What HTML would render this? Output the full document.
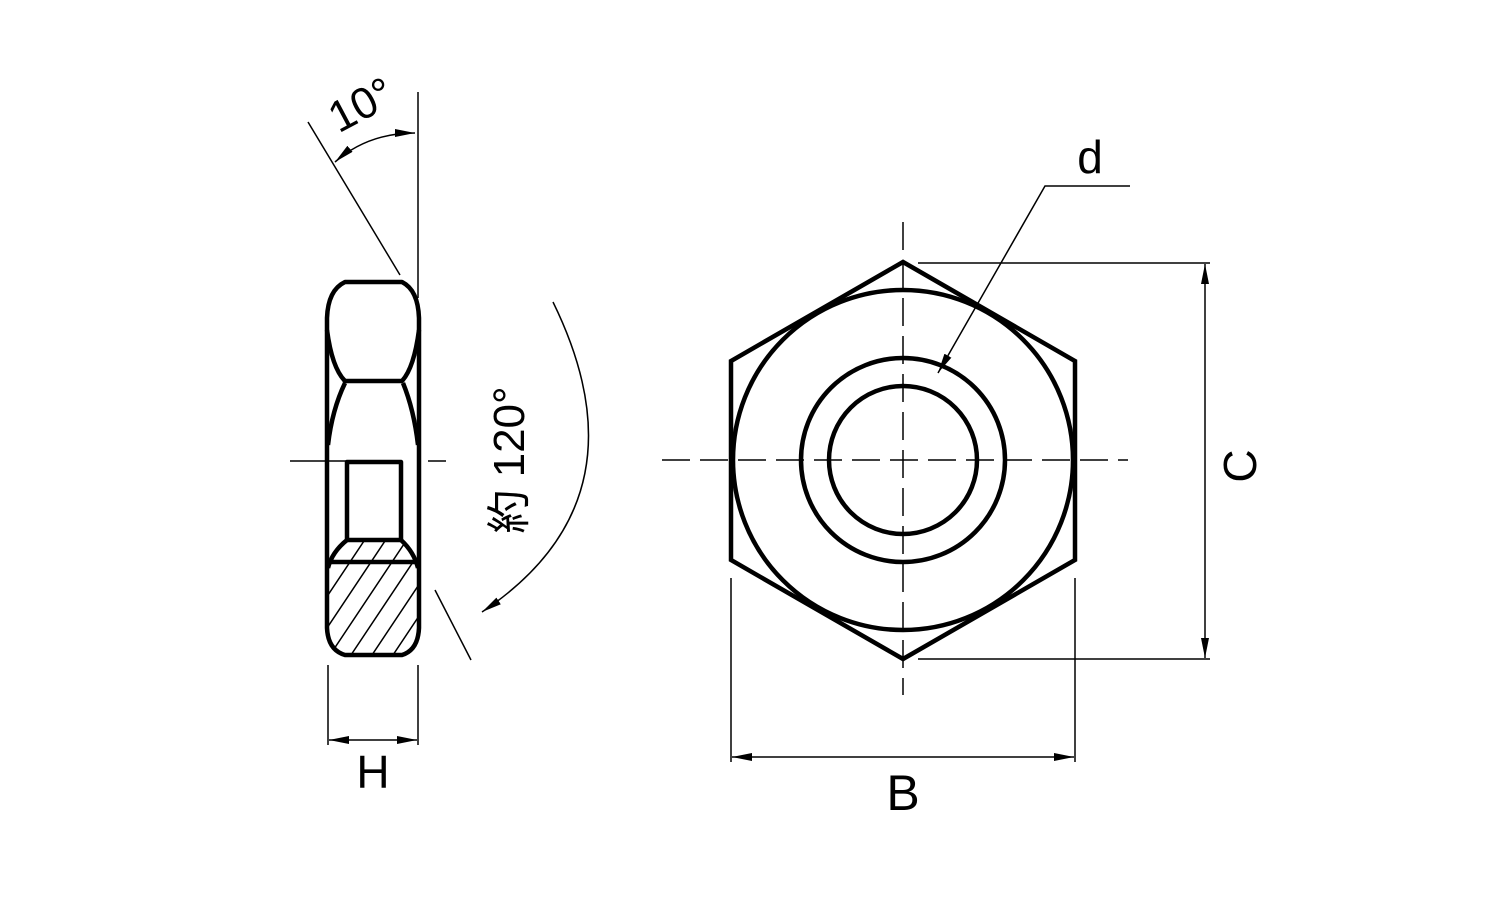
<!DOCTYPE html>
<html><head><meta charset="utf-8"><style>
html,body{margin:0;padding:0;background:#fff}
svg{display:block}
text{font-family:"Liberation Sans","Noto Sans CJK JP",sans-serif;fill:#000}
</style></head><body>
<svg width="1500" height="900" viewBox="0 0 1500 900" xmlns="http://www.w3.org/2000/svg">
<defs>
<marker id="a" viewBox="0 0 20 8" refX="20" refY="4" markerWidth="20" markerHeight="8" markerUnits="userSpaceOnUse" orient="auto-start-reverse">
<path d="M0,0 L20,4 L0,8 z" fill="#000"/></marker>
<clipPath id="hc"><path d="M347,540 L401,540 Q414,552 418,568 L418,628 Q418,650 402,655 L345,655 Q328,650 328,628 L328,568 Q332,552 347,540 z"/></clipPath>
</defs>
<g fill="none" stroke="#000">
<g clip-path="url(#hc)" stroke-width="1.5">
<path d="M300,700 L420,520 M321,700 L441,520 M342,700 L462,520 M363,700 L483,520 M384,700 L504,520 M279,700 L399,520 M258,700 L378,520 M237,700 L357,520 M216,700 L336,520 M195,700 L315,520"/>
</g>
<g stroke-width="4.5" stroke-linejoin="round">
<path d="M345,282 L402,282 Q418,290 419,318 L419,628 Q418,650 402,655 L345,655 Q328,650 327,628 L327,318 Q328,290 345,282 z"/>
<path d="M327,330 Q332,368 345,381 L402,381 Q414,368 419,330"/>
<path d="M345,383 Q332,410 328,445"/>
<path d="M403,383 Q414,410 418,445"/>
<rect x="347" y="462" width="54" height="78"/>
<path d="M347,540 Q332,552 328,568 M401,540 Q414,552 418,568"/>
<line x1="328" y1="562" x2="418" y2="562"/>
</g>
<g stroke-width="1.5">
<path d="M290,461 L390,461 M428,461 L446,461"/>
<line x1="418" y1="92" x2="418" y2="298"/>
<line x1="308" y1="122" x2="400" y2="275"/>
<path d="M415,133 Q368,133 335,162" marker-start="url(#a)" marker-end="url(#a)"/>
<path d="M553,302 Q650,500 482,612" marker-end="url(#a)"/>
<line x1="435" y1="590" x2="471" y2="660"/>
<line x1="328" y1="665" x2="328" y2="745"/>
<line x1="418" y1="665" x2="418" y2="745"/>
<line x1="329" y1="740" x2="417" y2="740" marker-start="url(#a)" marker-end="url(#a)"/>
</g>
<g stroke-width="4.5" stroke-linejoin="miter">
<path d="M903,262 L1075,361 L1075,560 L903,659 L731,560 L731,361 z"/>
<circle cx="903" cy="460" r="170"/>
<circle cx="903" cy="460" r="102"/>
<circle cx="903" cy="460" r="74"/>
</g>
<g stroke-width="1.5">
<line x1="903" y1="222" x2="903" y2="695" stroke-dasharray="28,10"/>
<line x1="662" y1="460" x2="1128" y2="460" stroke-dasharray="28,10"/>
<line x1="918" y1="263" x2="1210" y2="263"/>
<line x1="918" y1="659" x2="1210" y2="659"/>
<line x1="1205" y1="264" x2="1205" y2="658" marker-start="url(#a)" marker-end="url(#a)"/>
<line x1="731" y1="578" x2="731" y2="762"/>
<line x1="1075" y1="578" x2="1075" y2="762"/>
<line x1="732" y1="757" x2="1074" y2="757" marker-start="url(#a)" marker-end="url(#a)"/>
<path d="M1130,186 L1045,186 L938,373" marker-end="url(#a)"/>
</g>
</g>
<text x="1090" y="173" font-size="46" text-anchor="middle">d</text>
<text x="903" y="810" font-size="50" text-anchor="middle">B</text>
<text x="373" y="788" font-size="46" text-anchor="middle">H</text>
<text font-size="46" text-anchor="middle" transform="translate(1256,466) rotate(-90)">C</text>
<text font-size="44" text-anchor="middle" transform="translate(368,118) rotate(-28)">10°</text>
<text font-size="44" text-anchor="middle" transform="translate(524,460) rotate(-90)">約 120°</text>
</svg>
</body></html>
